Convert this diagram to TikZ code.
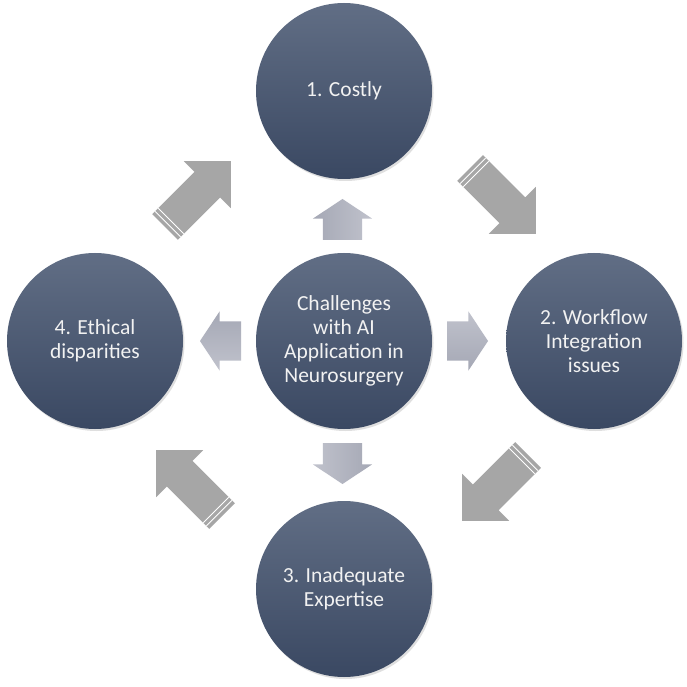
\documentclass[tikz,border=0pt]{standalone}
\usepackage{fontspec}
\setmainfont{Carlito}
\usetikzlibrary{shapes.arrows,shadows,calc}
\definecolor{circtop}{RGB}{97,110,133}
\definecolor{circbot}{RGB}{58,72,98}
\definecolor{smlight}{RGB}{192,194,204}
\definecolor{smdark}{RGB}{165,168,181}
\definecolor{bigarrow}{RGB}{166,166,166}
\tikzset{
  bubble/.style={circle, minimum size=176pt, inner sep=0pt, top color=circtop, bottom color=circbot,
    text=white!95!black, align=center, font=\fontsize{21.5}{24}\selectfont,
    drop shadow={opacity=0.25, shadow xshift=1.5pt, shadow yshift=-2pt}},
  smallarrow/.style={single arrow, minimum height=41pt, minimum width=0pt, inner xsep=0pt, inner ysep=19.5pt,
    single arrow head extend=10pt, single arrow tip angle=113, outer sep=0pt, anchor=tail},
  bigarrowshape/.style={single arrow, fill=bigarrow, minimum height=93pt, minimum width=0pt, inner xsep=0pt,
    inner ysep=18pt, single arrow head extend=15pt, outer sep=0pt, anchor=tail},
  stripe/.style={draw=white, line width=0.9pt}
}
\begin{document}
\begin{tikzpicture}[x=1pt,y=1pt]
\useasboundingbox[fill=white] (0,0) rectangle (687,686);
% circles
\node[bubble] (center) at (344,345) {Challenges\\with AI\\Application in\\Neurosurgery};
\node[bubble] (top) at (344,595) {1. Costly};
\node[bubble] (right) at (594,345) {2. Workflow\\Integration\\issues};
\node[bubble] (bottom) at (344,97) {3. Inadequate\\Expertise};
\node[bubble] (left) at (95,345) {4. Ethical\\disparities};
% small arrows from the centre
\node[smallarrow, rotate=90, left color=smdark, right color=smlight] (up) at (342.5,446) {};
\node[smallarrow, rotate=-90, left color=smlight, right color=smdark] (down) at (342.5,243) {};
\node[smallarrow, rotate=180, top color=smdark, bottom color=smlight] (lft) at (241,345) {};
\node[smallarrow, top color=smlight, bottom color=smdark] (rgt) at (447,345) {};
% cycle arrows
\node[bigarrowshape, rotate=-45] (a12) at (470,518) {};
\node[bigarrowshape, rotate=-135] (a23) at (528,231) {};
\node[bigarrowshape, rotate=135] (a34) at (222,170) {};
\node[bigarrowshape, rotate=45] (a41) at (165,459) {};
\foreach \a in {a12,a23,a34,a41}{
  \foreach \d in {4,8.5}{
    \coordinate (p) at ($(\a.tail)!\d pt!(\a.tip)$);
    \draw[stripe] ($(p)!18pt!90:(\a.tip)$) -- ($(p)!18pt!-90:(\a.tip)$);
  }
}
\end{tikzpicture}
\end{document}
